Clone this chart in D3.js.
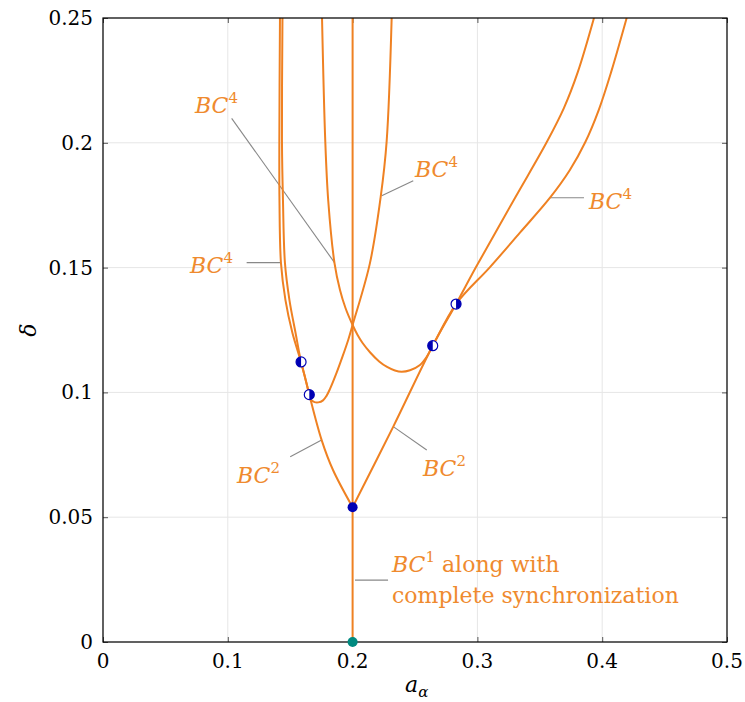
<!DOCTYPE html>
<html>
<head>
<meta charset="utf-8">
<script src="https://cdn.jsdelivr.net/npm/d3@7"></script>
<style>
  html, body { margin: 0; padding: 0; background: #fff; }
  svg text { font-family: "DejaVu Serif", "Liberation Serif", serif; }
</style>
</head>
<body>
<svg id="chart" width="745" height="702"></svg>
<script>
// ---------------- data ----------------
const xTicks = [0, 0.1, 0.2, 0.3, 0.4, 0.5];
const yTicks = [0, 0.05, 0.1, 0.15, 0.2, 0.25];
const xTickLabels = ["0", "0.1", "0.2", "0.3", "0.4", "0.5"];
const yTickLabels = ["0", "0.05", "0.1", "0.15", "0.2", "0.25"];

// BC^1 : vertical line a = 0.2
const bc1X = [0.2, 0.2];
const bc1Y = [0, 0.25];

// BC^2 left branch
const bc2LeftX = [0.2, 0.1843, 0.1752, 0.1653, 0.1621, 0.1587, 0.1543, 0.1494, 0.1458, 0.1442, 0.1434, 0.1438];
const bc2LeftY = [0.054, 0.0689, 0.0809, 0.0991, 0.1056, 0.1122, 0.1238, 0.1370, 0.1518, 0.1771, 0.2007, 0.25];

// BC^2 right branch
const bc2RightX = [0.2, 0.2326, 0.2642, 0.2829, 0.2989, 0.3301, 0.3555, 0.3693, 0.3805, 0.3934];
const bc2RightY = [0.054, 0.0863, 0.1187, 0.1354, 0.1502, 0.1779, 0.2002, 0.2139, 0.2284, 0.25];

// BC^4 first U-shaped curve
const bc4aX = [0.1418, 0.1413, 0.1414, 0.1426, 0.1462, 0.1518, 0.1587, 0.1621, 0.1653, 0.1663, 0.1695, 0.1725, 0.1763, 0.1791, 0.1819, 0.1872, 0.1921, 0.1966, 0.2, 0.2139, 0.2225, 0.2273, 0.2313];
const bc4aY = [0.25, 0.2007, 0.1771, 0.1518, 0.1370, 0.1238, 0.1122, 0.1056, 0.0991, 0.0972, 0.0961, 0.0960, 0.0968, 0.0986, 0.1014, 0.1079, 0.1146, 0.1212, 0.127, 0.1518, 0.1783, 0.2007, 0.25];

// BC^4 second U-shaped curve
const bc4bX = [0.1755, 0.1781, 0.1805, 0.1855, 0.1899, 0.1943, 0.2, 0.2040, 0.2080, 0.2141, 0.2213, 0.2276, 0.2339, 0.2393, 0.2460, 0.2540, 0.2594, 0.2642, 0.2829, 0.3101, 0.3341, 0.3582, 0.3741, 0.3865, 0.3972, 0.4072, 0.4196];
const bc4bY = [0.25, 0.2007, 0.1767, 0.1518, 0.1410, 0.1338, 0.127, 0.1230, 0.1198, 0.1160, 0.1124, 0.1102, 0.1088, 0.1083, 0.1089, 0.1110, 0.1143, 0.1187, 0.1354, 0.1502, 0.1640, 0.1780, 0.1891, 0.2003, 0.2131, 0.2284, 0.25];

// special points
const fullDotX = [0.2];
const fullDotY = [0.054];
const originDotX = [0.2];
const originDotY = [0];
const halfDotX = [0.1587, 0.1653, 0.2642, 0.2829];
const halfDotY = [0.1122, 0.0991, 0.1187, 0.1354];
const halfDotSide = ["left", "right", "left", "right"];

// annotations: label anchor + pointer line (data units)
const annotations = [
  {sup: "4", tx: 0.0737, ty: 0.2119, x1: 0.1031, y1: 0.2098, x2: 0.1855, y2: 0.152},
  {sup: "4", tx: 0.0697, ty: 0.1478, x1: 0.1151, y1: 0.152, x2: 0.1422, y2: 0.152},
  {sup: "4", tx: 0.2500, ty: 0.1864, x1: 0.2486, y1: 0.1848, x2: 0.2233, y2: 0.1788},
  {sup: "4", tx: 0.3894, ty: 0.1735, x1: 0.3582, y1: 0.178, x2: 0.3854, y2: 0.178},
  {sup: "2", tx: 0.1074, ty: 0.0637, x1: 0.1500, y1: 0.0742, x2: 0.1752, y2: 0.0809},
  {sup: "2", tx: 0.2564, ty: 0.0665, x1: 0.2326, y1: 0.0863, x2: 0.2594, y2: 0.0769},
  {sup: "1", tx: 0.2316, ty: 0.0280, x1: 0.2019, y1: 0.0248, x2: 0.2284, y2: 0.0248, extra: " along with", line2: "complete synchronization", ty2: 0.0156}
];

// ---------------- drawing ----------------
const FONT = "'DejaVu Serif', 'Liberation Serif', serif";
const m = {left: 103, top: 18};
const pw = 624, ph = 624;
const orange = "#ef8122";
const textOrange = "#ef8a2e";
const navy = "#0000b4";
const teal = "#008a80";

const svg = d3.select("#chart");
const x = d3.scaleLinear().domain([0, 0.5]).range([m.left, m.left + pw]);
const y = d3.scaleLinear().domain([0, 0.25]).range([m.top + ph, m.top]);

// grid
const grid = svg.append("g");
grid.selectAll("line.gx").data(xTicks).join("line")
  .attr("x1", d => x(d)).attr("x2", d => x(d))
  .attr("y1", y(0)).attr("y2", y(0.25))
  .attr("stroke", "#e6e6e6").attr("stroke-width", 1);
grid.selectAll("line.gy").data(yTicks).join("line")
  .attr("y1", d => y(d)).attr("y2", d => y(d))
  .attr("x1", x(0)).attr("x2", x(0.5))
  .attr("stroke", "#e6e6e6").attr("stroke-width", 1);

// axes (ticks inward on all sides)
const tl = 5;
const axB = d3.axisBottom(x).tickValues(xTicks).tickSize(-tl).tickFormat("");
const axT = d3.axisTop(x).tickValues(xTicks).tickSize(-tl).tickFormat("");
const axL = d3.axisLeft(y).tickValues(yTicks).tickSize(-tl).tickFormat("");
const axR = d3.axisRight(y).tickValues(yTicks).tickSize(-tl).tickFormat("");
function styleAxis(g) {
  g.select(".domain").remove();
  g.selectAll(".tick line").attr("stroke", "#555").attr("stroke-width", 1);
}
svg.append("g").attr("transform", `translate(0,${y(0)})`).call(axB).call(styleAxis);
svg.append("g").attr("transform", `translate(0,${y(0.25)})`).call(axT).call(styleAxis);
svg.append("g").attr("transform", `translate(${x(0)},0)`).call(axL).call(styleAxis);
svg.append("g").attr("transform", `translate(${x(0.5)},0)`).call(axR).call(styleAxis);

// tick labels
svg.append("g").selectAll("text").data(xTicks).join("text")
  .style("font-family", FONT)
  .attr("x", d => x(d)).attr("y", y(0) + 26)
  .attr("text-anchor", "middle").attr("font-size", 20).attr("fill", "#000")
  .text((d, i) => xTickLabels[i]);
svg.append("g").selectAll("text").data(yTicks).join("text")
  .style("font-family", FONT)
  .attr("x", x(0) - 10).attr("y", d => y(d) + 7)
  .attr("text-anchor", "end").attr("font-size", 20).attr("fill", "#000")
  .text((d, i) => yTickLabels[i]);

// axis titles
const xl = svg.append("text").style("font-family", FONT)
  .attr("x", 405).attr("y", 692).attr("font-size", 22).attr("fill", "#000");
xl.append("tspan").attr("font-style", "italic").text("a");
xl.append("tspan").attr("font-style", "italic").attr("font-size", 15).attr("dy", 5).text("α");
svg.append("text").style("font-family", FONT).attr("transform", "translate(36,330) rotate(-90)")
  .attr("text-anchor", "middle").attr("font-size", 22).attr("font-style", "italic").attr("fill", "#000").text("δ");

// clip
svg.append("clipPath").attr("id", "clip").append("rect")
  .attr("x", x(0)).attr("y", y(0.25)).attr("width", pw).attr("height", ph);

// annotation pointer lines
svg.append("g").selectAll("line").data(annotations).join("line")
  .attr("x1", d => x(d.x1)).attr("y1", d => y(d.y1))
  .attr("x2", d => x(d.x2)).attr("y2", d => y(d.y2))
  .attr("stroke", "#888").attr("stroke-width", 1.1);

// curves
const line = d3.line().x(d => x(d[0])).y(d => y(d[1])).curve(d3.curveCatmullRom.alpha(0.5));
const curves = [
  [bc1X, bc1Y],
  [bc2LeftX, bc2LeftY],
  [bc2RightX, bc2RightY],
  [bc4aX, bc4aY],
  [bc4bX, bc4bY]
];
const cg = svg.append("g").attr("clip-path", "url(#clip)");
curves.forEach(([xs, ys]) => {
  cg.append("path").datum(xs.map((v, i) => [v, ys[i]]))
    .attr("d", line).attr("fill", "none")
    .attr("stroke", orange).attr("stroke-width", 2).attr("stroke-linejoin", "round");
});

// frame
svg.append("rect").attr("x", x(0)).attr("y", y(0.25)).attr("width", pw).attr("height", ph)
  .attr("fill", "none").attr("stroke", "#000").attr("stroke-width", 1.2);

// annotation text
const ag = svg.append("g");
annotations.forEach(a => {
  const t = ag.append("text").style("font-family", FONT).attr("x", x(a.tx)).attr("y", y(a.ty))
    .attr("font-size", 22).attr("fill", textOrange);
  t.append("tspan").attr("font-style", "italic").text("BC");
  t.append("tspan").attr("font-size", 15).attr("dy", -10).text(a.sup);
  if (a.extra) {
    t.append("tspan").attr("dy", 10).text(a.extra);
    ag.append("text").style("font-family", FONT).attr("x", x(a.tx)).attr("y", y(a.ty2))
      .attr("font-size", 22).attr("fill", textOrange).text(a.line2);
  }
});

// dots
const r = 5;
svg.append("g").selectAll("circle").data(fullDotX).join("circle")
  .attr("cx", d => x(d)).attr("cy", (d, i) => y(fullDotY[i])).attr("r", r).attr("fill", navy);
svg.append("g").selectAll("circle").data(originDotX).join("circle")
  .attr("cx", d => x(d)).attr("cy", (d, i) => y(originDotY[i])).attr("r", r).attr("fill", teal);

const arc = d3.arc().innerRadius(0).outerRadius(r);
const hg = svg.append("g");
halfDotX.forEach((hx, i) => {
  const g = hg.append("g").attr("transform", `translate(${x(hx)},${y(halfDotY[i])})`);
  g.append("circle").attr("r", r).attr("fill", "#fff");
  const left = halfDotSide[i] === "left";
  g.append("path").attr("d", arc({startAngle: left ? Math.PI : 0, endAngle: left ? 2 * Math.PI : Math.PI}))
    .attr("fill", navy);
  g.append("circle").attr("r", r).attr("fill", "none").attr("stroke", navy).attr("stroke-width", 1.2);
});
</script>
</body>
</html>
